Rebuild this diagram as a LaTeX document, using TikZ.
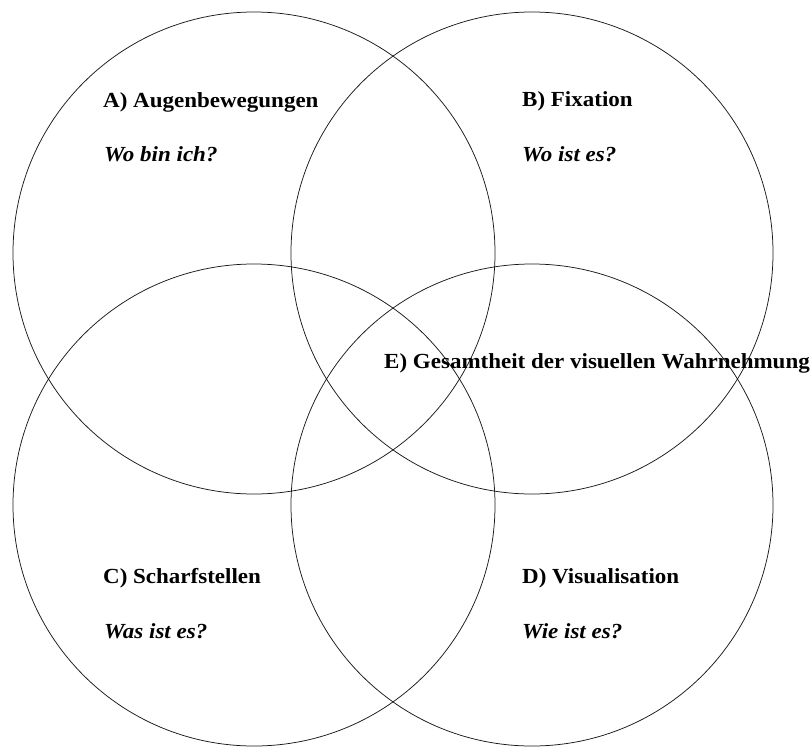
\documentclass[tikz,border=0pt]{standalone}
\usepackage{fontspec}
\setmainfont{Liberation Serif}[FakeStretch=1.07]
\begin{document}
\begin{tikzpicture}[x=1pt,y=-1pt,
  ring/.style={draw=black!90,line width=0.75pt,circle,minimum size=482pt,inner sep=0pt},
  title/.style={anchor=base west,inner sep=0pt,font=\fontsize{21.5}{24}\selectfont\bfseries},
  question/.style={anchor=base west,inner sep=0pt,font=\fontsize{21.5}{24}\selectfont\bfseries\itshape}]
\useasboundingbox (0,0) rectangle (811,747);
% four overlapping circles
\node[ring] (A) at (254,253) {};
\node[ring] (B) at (532,253) {};
\node[ring] (C) at (254,505) {};
\node[ring] (D) at (532,505) {};
% labels
\node[title] (tA) at (103,107) {A) Augenbewegungen};
\node[question] (qA) at (104,161) {Wo bin ich?};
\node[title] (tB) at (522,106) {B) Fixation};
\node[question] (qB) at (522,161) {Wo ist es?};
\node[title] (tC) at (103,583) {C) Scharfstellen};
\node[question] (qC) at (104,638) {Was ist es?};
\node[title] (tD) at (522,583) {D) Visualisation};
\node[question] (qD) at (522,638) {Wie ist es?};
\node[title] (tE) at (384,368) {E) Gesamtheit der visuellen Wahrnehmung};
\end{tikzpicture}
\end{document}
